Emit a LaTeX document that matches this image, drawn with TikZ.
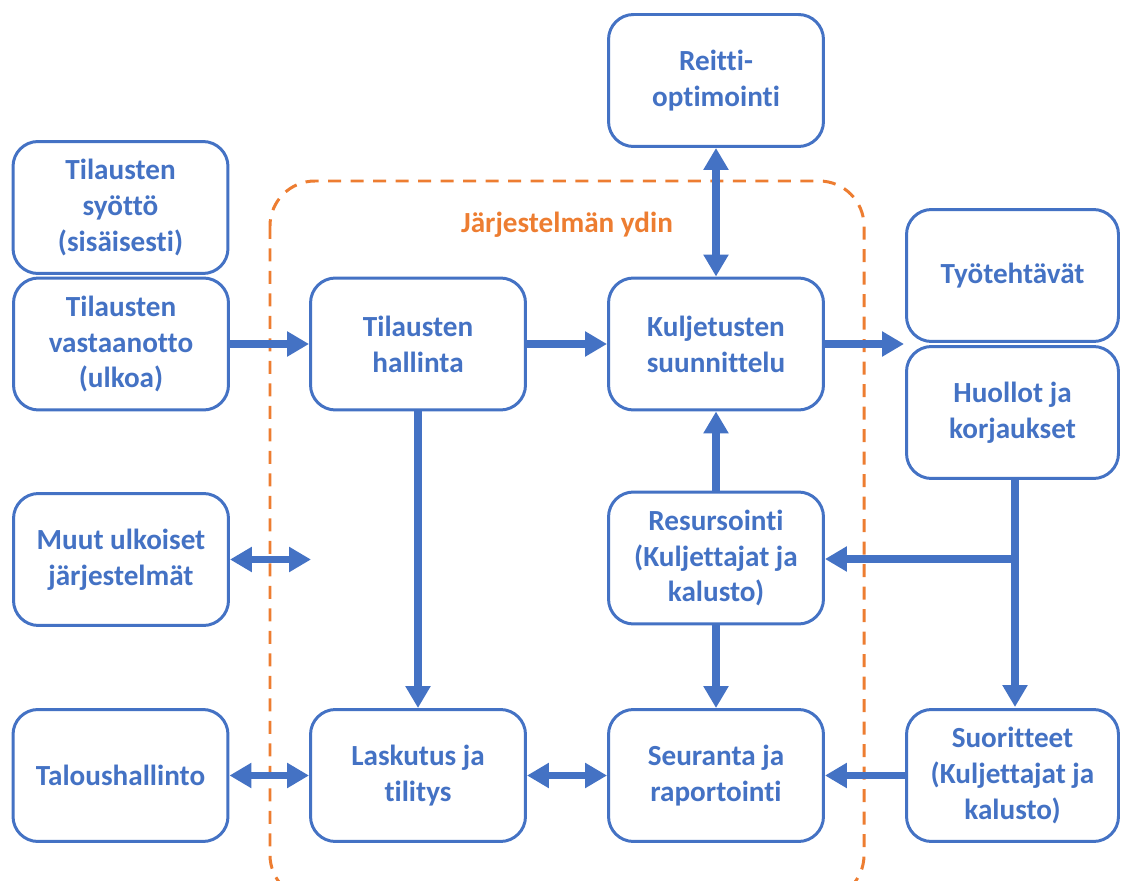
\documentclass[tikz,border=0pt]{standalone}
\usepackage{fontspec}
\setmainfont{Carlito}[Ligatures={NoCommon,NoRare,NoContextual}]
\usetikzlibrary{arrows.meta}
\definecolor{bl}{HTML}{4472C4}
\definecolor{orng}{HTML}{ED7D31}
\begin{document}
\begin{tikzpicture}[x=0.02cm,y=-0.02cm,
  box/.style={draw=bl, line width=1.7pt, rounded corners=0.5cm, minimum width=4.3cm, minimum height=2.64cm, align=center, text=bl, font=\fontsize{16.6}{20.4}\selectfont\bfseries, fill=white, inner sep=2pt},
  tip/.tip={Triangle[length=0.44cm,width=0.48cm]},
  conn/.style={draw=bl, line width=4.5pt, -tip},
  conntwo/.style={draw=bl, line width=4.5pt, tip-tip},
  core/.style={draw=orng, line width=1.7pt, dash pattern=on 0.26cm off 0.19cm, rounded corners=0.9cm}
]
\useasboundingbox (0,0) rectangle (1122,881);
\begin{scope}
\clip (0,0) rectangle (1122,881);
\draw[core] (270,181) rectangle (864,900);
\end{scope}
\node[text=orng, font=\fontsize{16.6}{20.4}\selectfont\bfseries] (ydin) at (567,225) {Järjestelmän ydin};

\node[box] (reitti) at (716,80.5) {Reitti-\\optimointi};
\node[box] (syotto) at (120.5,207.5) {Tilausten\\syöttö\\(sisäisesti)};
\node[box] (vast) at (121,344) {Tilausten\\vastaanotto\\(ulkoa)};
\node[box] (hall) at (418,344) {Tilausten\\hallinta};
\node[box] (kulj) at (716,344) {Kuljetusten\\suunnittelu};
\node[box, minimum width=4.24cm] (tyo) at (1012.5,275.5) {Työtehtävät};
\node[box, minimum width=4.24cm] (huol) at (1012.5,412.5) {Huollot ja\\korjaukset};
\node[box] (muut) at (121,559.5) {Muut ulkoiset\\järjestelmät};
\node[box] (res) at (716,558) {Resursointi\\(Kuljettajat ja\\kalusto)};
\node[box] (talous) at (120.5,775.5) {Taloushallinto};
\node[box] (lask) at (418,775.5) {Laskutus ja\\tilitys};
\node[box] (seur) at (716,775.5) {Seuranta ja\\raportointi};
\node[box, minimum width=4.24cm] (suor) at (1012.5,775.5) {Suoritteet\\(Kuljettajat ja\\kalusto)};

\coordinate (kt) at (904,344);
\coordinate (mf) at (311,559.5);
\coordinate (br) at (1015,559);
\coordinate (hs) at (1015,480);
\coordinate (sn) at (1015,707);

\draw[conn] (vast) -- (hall);
\draw[conn] (hall) -- (kulj);
\draw[conn] (kulj.east) -- (kt);
\draw[conntwo] (reitti) -- (kulj);
\draw[conn] (res) -- (kulj);
\draw[conn] (res) -- (seur);
\draw[conn] (hall) -- (lask);
\draw[conntwo] (muut.east) -- (mf);
\draw[conntwo] (talous) -- (lask);
\draw[conntwo] (lask) -- (seur);
\draw[conn] (suor) -- (seur);
\draw[conn] (hs) -- (sn);
\draw[conn] (br) -- (res.east |- br);
\end{tikzpicture}
\end{document}
